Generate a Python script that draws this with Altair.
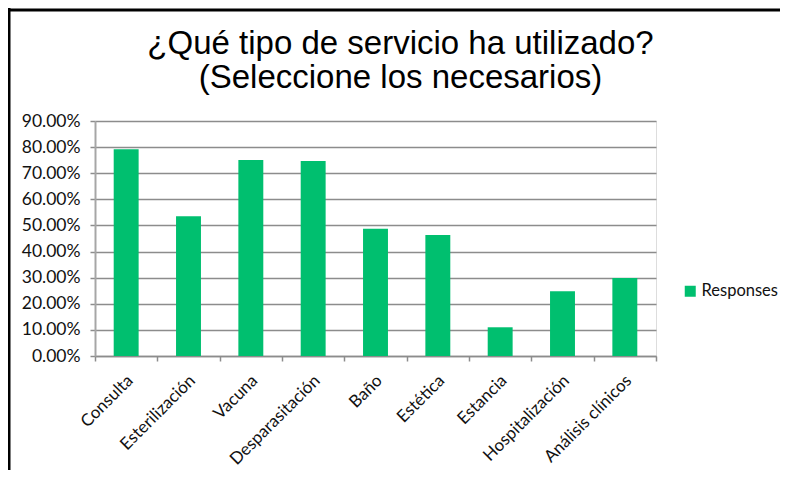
import altair as alt
import pandas as pd

categories = ["Consulta", "Esterilización", "Vacuna", "Desparasitación", "Baño",
              "Estética", "Estancia", "Hospitalización", "Análisis clínicos"]
values = [0.792, 0.535, 0.751, 0.747, 0.487, 0.463, 0.110, 0.248, 0.299]
series = ["Responses"] * len(categories)
y_ticks = [0.0, 0.1, 0.2, 0.3, 0.4, 0.5, 0.6, 0.7, 0.8, 0.9]

df = pd.DataFrame({"cat": categories, "val": values, "series": series})

LABEL_FONT = "Lato"
GRID = "#8c8c8c"

bars = alt.Chart(df).mark_bar(width={"band": 0.4}, color="#00bf6f").encode(
    x=alt.X("cat:N", sort=categories,
            scale=alt.Scale(paddingInner=0, paddingOuter=0),
            axis=alt.Axis(title=None, labelAngle=-45, labelAlign="right",
                          labelBaseline="top", labelPadding=11, labelOffset=-2,
                          labelFont=LABEL_FONT, labelFontSize=17, labelColor="#111111",
                          tickBand="extent", ticks=True, tickSize=5, tickColor=GRID,
                          tickWidth=1.5, domainColor=GRID, domainWidth=1.5, grid=False)),
    y=alt.Y("val:Q", scale=alt.Scale(domain=[0, 0.9], nice=False),
            axis=alt.Axis(title=None, values=y_ticks, format=".2%",
                          labelFont=LABEL_FONT, labelFontSize=17.5, labelColor="#111111",
                          labelPadding=10, tickSize=5, tickColor=GRID, tickWidth=1.5,
                          domainColor="#a6a6a6", domainWidth=2,
                          grid=True, gridColor=GRID, gridWidth=1.5)),
    color=alt.Color("series:N", scale=alt.Scale(range=["#00bf6f"]),
                    legend=alt.Legend(title=None, orient="none", legendX=587, legendY=162,
                                      symbolType="square", symbolSize=121,
                                      symbolStrokeWidth=0, labelFont=LABEL_FONT,
                                      labelFontSize=16.5, labelColor="#111111",
                                      labelOffset=3)),
)

frame_df = pd.DataFrame({"k": [0]})
left_line = alt.Chart(frame_df).mark_rule(color="black", strokeWidth=3).encode(
    x=alt.value(-86), y=alt.value(-113), y2=alt.value(349))
top_line = alt.Chart(frame_df).mark_rule(color="black", strokeWidth=3).encode(
    x=alt.value(-87), x2=alt.value(685), y=alt.value(-111))

chart = alt.layer(bars, left_line, top_line).properties(
    width=561, height=235,
    padding={"left": 87, "top": 113, "right": 124, "bottom": 114},
    autosize=alt.AutoSizeParams(type="none"),
    title=alt.TitleParams(
        text=["¿Qué tipo de servicio ha utilizado?", "(Seleccione los necesarios)"],
        font="Liberation Sans", fontSize=33, fontWeight="normal", color="black",
        lineHeight=34, anchor="middle", frame="group", dx=25, dy=110, offset=22),
).configure_view(stroke=None).configure(background="white")

chart.save("out.html", embed_options={"renderer": "svg", "actions": False})
